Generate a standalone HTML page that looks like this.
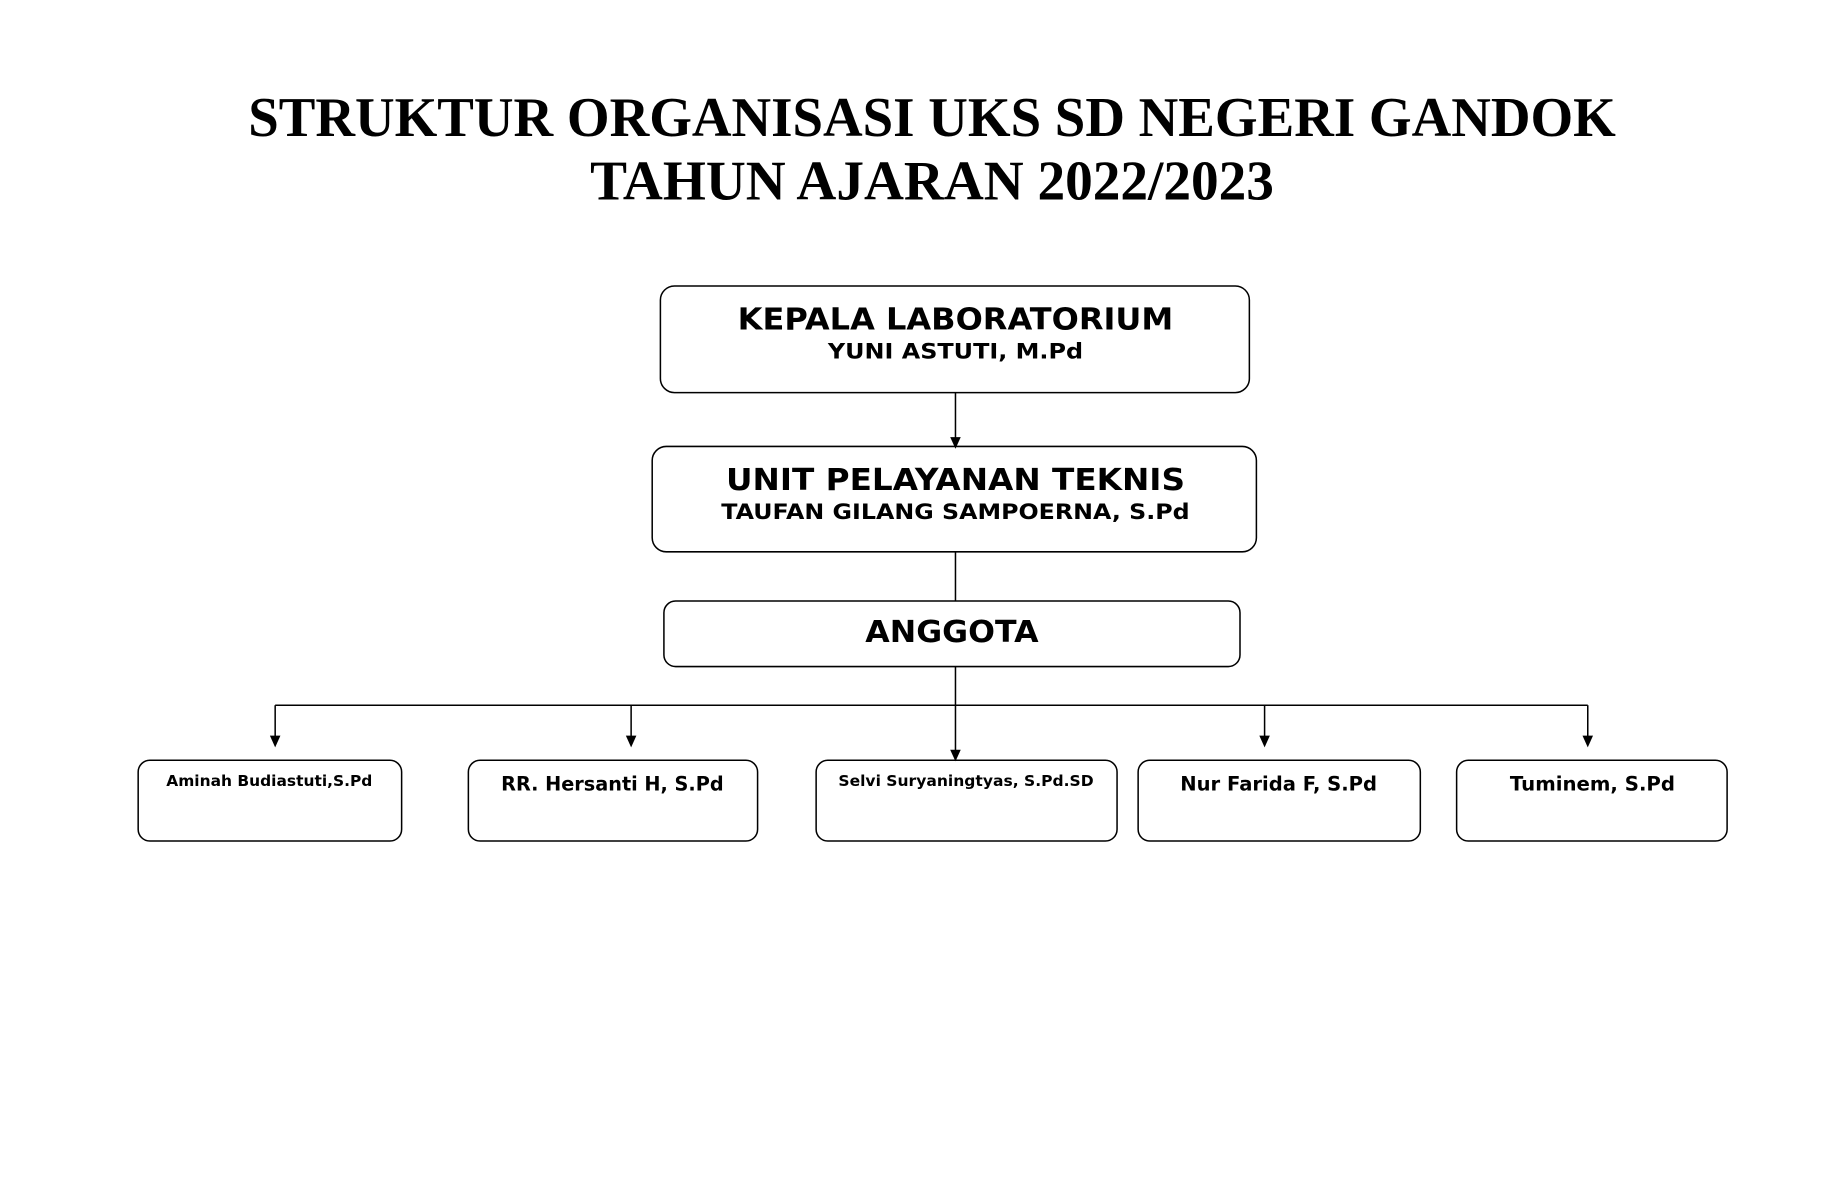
<!DOCTYPE html>
<html><head><meta charset="utf-8"><style>html,body{margin:0;padding:0;background:#fff}svg{display:block}</style></head>
<body>
<svg width="1836" height="1202" viewBox="0 0 1568 1026" xmlns="http://www.w3.org/2000/svg">
<g font-family="Liberation Serif, serif" font-weight="bold" font-size="48" text-anchor="middle" fill="#000">
<text x="796" y="116" textLength="1168" lengthAdjust="spacingAndGlyphs">STRUKTUR ORGANISASI UKS SD NEGERI GANDOK</text>
<text x="796" y="170" textLength="584" lengthAdjust="spacingAndGlyphs">TAHUN AJARAN 2022/2023</text>
</g>
<g fill="none" stroke="#000" stroke-width="1.3">
<rect x="564" y="244" width="503" height="91" rx="12"/>
<rect x="557" y="381" width="516" height="90" rx="12"/>
<rect x="567" y="513" width="492" height="56" rx="10"/>
<rect x="118" y="649" width="225" height="69" rx="10"/>
<rect x="400" y="649" width="247" height="69" rx="10"/>
<rect x="697" y="649" width="257" height="69" rx="10"/>
<rect x="972" y="649" width="241" height="69" rx="10"/>
<rect x="1244" y="649" width="231" height="69" rx="10"/>
<line x1="816" y1="335" x2="816" y2="374"/>
<line x1="816" y1="471" x2="816" y2="513"/>
<line x1="816" y1="569" x2="816" y2="641"/>
<line x1="235" y1="602" x2="1356" y2="602"/>
<line x1="235" y1="602" x2="235" y2="630"/>
<line x1="539" y1="602" x2="539" y2="630"/>
<line x1="1080" y1="602" x2="1080" y2="630"/>
<line x1="1356" y1="602" x2="1356" y2="630"/>
</g>
<g fill="#000">
<polygon points="811.5,373 820.5,373 816,383"/>
<polygon points="811.5,640 820.5,640 816,650"/>
<polygon points="230.5,628 239.5,628 235,638"/>
<polygon points="534.5,628 543.5,628 539,638"/>
<polygon points="1075.5,628 1084.5,628 1080,638"/>
<polygon points="1351.5,628 1360.5,628 1356,638"/>
</g>
<g font-family="DejaVu Sans, sans-serif" font-weight="bold" text-anchor="middle" fill="#000">
<text x="816" y="281" font-size="26" textLength="372" lengthAdjust="spacingAndGlyphs">KEPALA LABORATORIUM</text>
<text x="816" y="306" font-size="18" textLength="218" lengthAdjust="spacingAndGlyphs">YUNI ASTUTI, M.Pd</text>
<text x="816" y="418" font-size="26" textLength="392" lengthAdjust="spacingAndGlyphs">UNIT PELAYANAN TEKNIS</text>
<text x="816" y="443" font-size="18" textLength="400" lengthAdjust="spacingAndGlyphs">TAUFAN GILANG SAMPOERNA, S.Pd</text>
<text x="813" y="548" font-size="26" textLength="148" lengthAdjust="spacingAndGlyphs">ANGGOTA</text>
<text x="230" y="671" font-size="13" textLength="176" lengthAdjust="spacingAndGlyphs">Aminah Budiastuti,S.Pd</text>
<text x="523" y="675" font-size="17" textLength="190" lengthAdjust="spacingAndGlyphs">RR. Hersanti H, S.Pd</text>
<text x="825" y="671" font-size="13" textLength="218" lengthAdjust="spacingAndGlyphs">Selvi Suryaningtyas, S.Pd.SD</text>
<text x="1092" y="675" font-size="17" textLength="168" lengthAdjust="spacingAndGlyphs">Nur Farida F, S.Pd</text>
<text x="1360" y="675" font-size="17" textLength="141" lengthAdjust="spacingAndGlyphs">Tuminem, S.Pd</text>
</g>
</svg>
</body></html>
